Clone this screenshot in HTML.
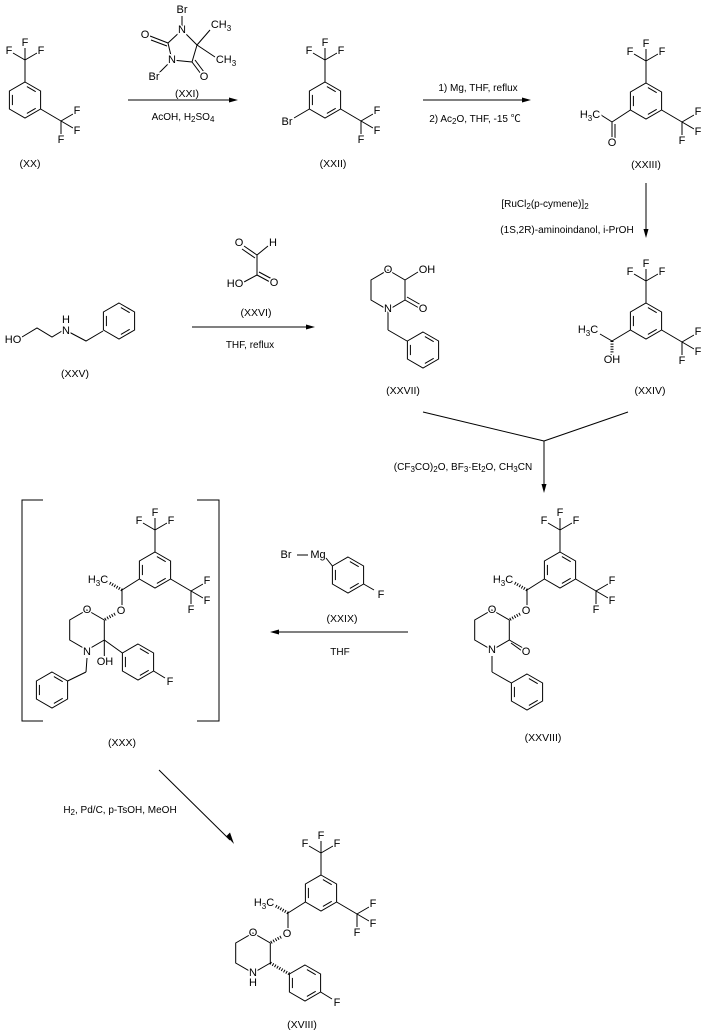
<!DOCTYPE html>
<html><head><meta charset="utf-8"><style>
html,body{margin:0;padding:0;background:#fff;}
svg{display:block;}
text{font-family:"Liberation Sans","Noto Sans CJK SC",sans-serif;fill:#000;}
.a{font-size:11px;text-anchor:middle;dominant-baseline:central;stroke:#fff;stroke-width:3px;paint-order:stroke;}
.c{font-size:10px;text-anchor:middle;}
.l{font-size:10.5px;text-anchor:middle;}
line,polyline,polygon.r{stroke:#000;stroke-width:1;fill:none;}
.h{stroke-width:3;stroke-dasharray:1 1.6;}
</style></head><body>
<svg width="709" height="1032" viewBox="0 0 709 1032" xmlns="http://www.w3.org/2000/svg">
<defs>
<g id="ring">
<polygon class="r" points="0,-18 15.6,-9 15.6,9 0,18 -15.6,9 -15.6,-9"/>
<line x1="1.9" y1="-13.4" x2="10.7" y2="-8.3"/>
<line x1="10.7" y1="8.3" x2="1.9" y2="13.4"/>
<line x1="-12.6" y1="5.1" x2="-12.6" y2="-5.1"/>
</g>
<g id="cf3top">
<line x1="0" y1="-18" x2="0" y2="-40"/>
<line x1="0" y1="-40" x2="0" y2="-52"/>
<line x1="0" y1="-40" x2="-12" y2="-47"/>
<line x1="0" y1="-40" x2="12" y2="-47"/>
<text class="a" x="0" y="-57">F</text>
<text class="a" x="-16" y="-49">F</text>
<text class="a" x="16" y="-49">F</text>
</g>
<g id="cf3r">
<line x1="15.6" y1="9" x2="36" y2="21"/>
<line x1="36" y1="21" x2="48" y2="14"/>
<line x1="36" y1="21" x2="48" y2="28"/>
<line x1="36" y1="21" x2="36" y2="34"/>
<text class="a" x="52" y="11">F</text>
<text class="a" x="52" y="31">F</text>
<text class="a" x="36" y="40">F</text>
</g>
<g id="core">
<use href="#ring"/>
<use href="#cf3top"/>
<use href="#cf3r"/>
<line x1="-15.6" y1="9" x2="-33" y2="20"/>
<line class="h" x1="-33" y1="20" x2="-47" y2="12"/>
<line x1="-33" y1="20" x2="-33" y2="38"/>
<text class="a" x="-34" y="41">O</text>
<line class="h" x1="-40" y1="44" x2="-51" y2="50"/>
<polygon class="r" points="-68,40 -50.7,50 -50.7,70 -68,80 -85.3,70 -85.3,50"/>
<text class="a" x="-68" y="40">O</text>
<text class="a" x="-57" y="10" style="text-anchor:middle">H<tspan font-size="8" dy="3">3</tspan><tspan dy="-3">C</tspan></text>
</g>
</defs>

<!-- XX -->
<g transform="translate(25,100)">
<use href="#ring"/><use href="#cf3top"/><use href="#cf3r"/>
</g>
<text class="l" x="30" y="167">(XX)</text>

<!-- XXI reagent -->
<line x1="182" y1="16" x2="182" y2="30"/>
<line x1="182" y1="30" x2="197" y2="45"/>
<line x1="197" y1="45" x2="192" y2="62"/>
<line x1="192" y1="62" x2="172" y2="60"/>
<line x1="172" y1="60" x2="168" y2="43"/>
<line x1="168" y1="43" x2="182" y2="30"/>
<line x1="197" y1="45" x2="210" y2="30"/>
<line x1="197" y1="45" x2="215" y2="57"/>
<line x1="168" y1="43" x2="150" y2="36"/>
<line x1="167" y1="46" x2="151" y2="40"/>
<line x1="192" y1="62" x2="201" y2="74"/>
<line x1="195" y1="60" x2="204" y2="72"/>
<line x1="172" y1="60" x2="158" y2="74"/>
<text class="a" x="182" y="10">Br</text>
<text class="a" x="182" y="30">N</text>
<text class="a" x="172" y="60">N</text>
<text class="a" x="145" y="35">O</text>
<text class="a" x="204" y="77">O</text>
<text class="a" x="154" y="77">Br</text>
<text class="a" x="221" y="25">CH<tspan font-size="8" dy="3">3</tspan></text>
<text class="a" x="226" y="60">CH<tspan font-size="8" dy="3">3</tspan></text>
<text class="l" x="187" y="97">(XXI)</text>
<line x1="128" y1="100" x2="234" y2="100"/>
<polygon points="238,100 229,97.5 229,102.5" fill="#000"/>
<text class="c" x="183" y="120">AcOH, H<tspan font-size="8" dy="2">2</tspan><tspan dy="-2">SO</tspan><tspan font-size="8" dy="2">4</tspan></text>

<!-- XXII -->
<g transform="translate(325,100)">
<use href="#ring"/><use href="#cf3top"/><use href="#cf3r"/>
<line x1="-15.6" y1="9" x2="-31" y2="18"/>
<text class="a" x="-38" y="22">Br</text>
</g>
<text class="l" x="333" y="167">(XXII)</text>

<line x1="423" y1="100" x2="526" y2="100"/>
<polygon points="531,100 522,97.5 522,102.5" fill="#000"/>
<text class="c" x="478" y="91">1) Mg, THF, reflux</text>
<text class="c" x="475" y="122">2) Ac<tspan font-size="8" dy="2">2</tspan><tspan dy="-2">O, THF, -15 ℃</tspan></text>

<!-- XXIII -->
<g transform="translate(646,101)">
<use href="#ring"/><use href="#cf3top"/><use href="#cf3r"/>
<line x1="-15.6" y1="9" x2="-34" y2="21"/>
<line x1="-34" y1="21" x2="-34" y2="37"/>
<line x1="-31" y1="23" x2="-31" y2="37"/>
<line x1="-34" y1="21" x2="-45" y2="14"/>
<text class="a" x="-34" y="42">O</text>
<text class="a" x="-56" y="14">H<tspan font-size="8" dy="3">3</tspan><tspan dy="-3">C</tspan></text>
</g>
<text class="l" x="646" y="168">(XXIII)</text>

<line x1="646" y1="183" x2="646" y2="233"/>
<polygon points="646,238 643.5,229 648.5,229" fill="#000"/>
<text class="c" x="545" y="207">[RuCl<tspan font-size="8" dy="2">2</tspan><tspan dy="-2">(p-cymene)]</tspan><tspan font-size="8" dy="2">2</tspan></text>
<text class="c" x="567" y="233">(1S,2R)-aminoindanol, i-PrOH</text>

<!-- XXIV -->
<g transform="translate(646,321)">
<use href="#ring"/><use href="#cf3top"/><use href="#cf3r"/>
<line x1="-15.6" y1="9" x2="-34" y2="20"/>
<line x1="-34" y1="20" x2="-46" y2="13"/>
<line class="h" x1="-34" y1="20" x2="-34" y2="34"/>
<text class="a" x="-34" y="39">OH</text>
<text class="a" x="-58" y="9">H<tspan font-size="8" dy="3">3</tspan><tspan dy="-3">C</tspan></text>
</g>
<text class="l" x="650" y="394">(XXIV)</text>

<!-- XXV -->
<polyline points="22,337 37,328 52,337 62,331"/>
<polyline points="69,332 86,341 103,331"/>
<text class="a" x="13" y="340">HO</text>
<text class="a" x="66" y="331">N</text>
<text class="a" x="66" y="320">H</text>
<g transform="translate(119,321)"><use href="#ring"/></g>
<text class="l" x="75" y="377">(XXV)</text>

<!-- XXVI -->
<line x1="257" y1="255" x2="257" y2="275"/>
<line x1="257" y1="255" x2="268" y2="246"/>
<line x1="257" y1="255" x2="244" y2="246"/>
<line x1="255" y1="258" x2="242" y2="249"/>
<line x1="257" y1="275" x2="244" y2="282"/>
<line x1="257" y1="275" x2="270" y2="282"/>
<line x1="259" y1="272" x2="272" y2="279"/>
<text class="a" x="239" y="243">O</text>
<text class="a" x="273" y="243">H</text>
<text class="a" x="235" y="284">HO</text>
<text class="a" x="274" y="283">O</text>
<text class="l" x="256" y="316">(XXVI)</text>
<line x1="192" y1="327" x2="310" y2="327"/>
<polygon points="315,327 306,324.5 306,329.5" fill="#000"/>
<text class="c" x="250" y="348">THF, reflux</text>

<!-- XXVII -->
<polygon class="r" points="388,270 405,280 405,300 388,310 371,300 371,280"/>
<line x1="405" y1="280" x2="418" y2="272"/>
<line x1="405" y1="300" x2="419" y2="308"/>
<line x1="407" y1="297" x2="421" y2="305"/>
<line x1="388" y1="310" x2="388" y2="330"/>
<line x1="388" y1="330" x2="407" y2="341"/>
<text class="a" x="388" y="270">O</text>
<text class="a" x="427" y="270">OH</text>
<text class="a" x="423" y="309">O</text>
<text class="a" x="388" y="309">N</text>
<g transform="translate(423,350)"><use href="#ring"/></g>
<text class="l" x="403" y="394">(XXVII)</text>

<!-- converge -->
<line x1="423" y1="412" x2="544" y2="441"/>
<line x1="628" y1="412" x2="544" y2="441"/>
<line x1="544" y1="441" x2="544" y2="488"/>
<polygon points="544,493 541.5,484 546.5,484" fill="#000"/>
<text class="c" x="463" y="470">(CF<tspan font-size="8" dy="2">3</tspan><tspan dy="-2">CO)</tspan><tspan font-size="8" dy="2">2</tspan><tspan dy="-2">O, BF</tspan><tspan font-size="8" dy="2">3</tspan><tspan dy="-2">·Et</tspan><tspan font-size="8" dy="2">2</tspan><tspan dy="-2">O, CH</tspan><tspan font-size="8" dy="2">3</tspan><tspan dy="-2">CN</tspan></text>

<!-- XXVIII -->
<g transform="translate(560,570)">
<use href="#core"/>
<line x1="-50.7" y1="70" x2="-37" y2="78"/>
<line x1="-49" y1="73" x2="-38" y2="81"/>
<text class="a" x="-34" y="82">O</text>
<text class="a" x="-68" y="80">N</text>
<line x1="-68" y1="86" x2="-68" y2="102"/>
<line x1="-68" y1="102" x2="-48.6" y2="113"/>
<g transform="translate(-33,122)"><use href="#ring"/></g>
</g>
<text class="l" x="543" y="741">(XXVIII)</text>

<!-- XXIX -->
<text class="a" x="286" y="555">Br</text>
<line x1="297" y1="555" x2="308" y2="555"/>
<text class="a" x="318" y="555">Mg</text>
<line x1="326" y1="558" x2="332.4" y2="566"/>
<g transform="translate(348,575)"><use href="#ring"/></g>
<line x1="363.6" y1="584" x2="374" y2="590"/>
<text class="a" x="381" y="595">F</text>
<text class="l" x="342" y="622">(XXIX)</text>
<line x1="408" y1="632" x2="275" y2="632"/>
<polygon points="270,632 279,629.5 279,634.5" fill="#000"/>
<text class="c" x="340" y="655">THF</text>

<!-- XXX -->
<polyline points="43,500 22,500 22,721 43,721"/>
<polyline points="197,500 219,500 219,721 197,721"/>
<g transform="translate(155,570)">
<use href="#core"/>
<text class="a" x="-68" y="82">N</text>
<line x1="-50.7" y1="70" x2="-50.7" y2="86"/>
<text class="a" x="-50" y="92">OH</text>
<line x1="-50.7" y1="70" x2="-32.6" y2="83"/>
<g transform="translate(-17,92)"><use href="#ring"/></g>
<line x1="-1.4" y1="101" x2="10" y2="108"/>
<text class="a" x="15" y="112">F</text>
<line x1="-68" y1="88" x2="-69" y2="102"/>
<line x1="-69" y1="102" x2="-87.4" y2="111"/>
<g transform="translate(-103,120)"><use href="#ring"/></g>
</g>
<text class="l" x="122" y="746">(XXX)</text>

<!-- to XVIII -->
<line x1="159" y1="770" x2="230" y2="840"/>
<polygon points="234,844 226.5,836 230,832.5" fill="#000"/>
<text class="c" x="120" y="813">H<tspan font-size="8" dy="2">2</tspan><tspan dy="-2">, Pd/C, p-TsOH, MeOH</tspan></text>

<!-- XVIII -->
<g transform="translate(321,893)">
<use href="#core"/>
<text class="a" x="-68" y="80">N</text>
<text class="a" x="-68" y="90">H</text>
<line class="h" x1="-50.7" y1="70" x2="-31.6" y2="81"/>
<g transform="translate(-16,90)"><use href="#ring"/></g>
<line x1="-0.4" y1="99" x2="11" y2="106"/>
<text class="a" x="16" y="110">F</text>
</g>
<text class="l" x="302" y="1028">(XVIII)</text>
</svg>
</body></html>
